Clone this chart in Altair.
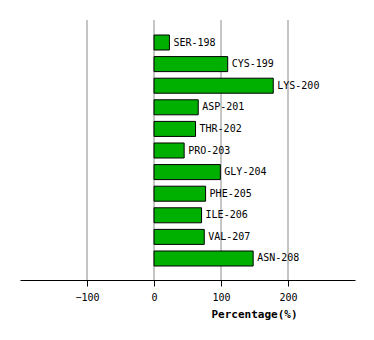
import altair as alt
import pandas as pd

residues = ["SER-198", "CYS-199", "LYS-200", "ASP-201", "THR-202", "PRO-203",
            "GLY-204", "PHE-205", "ILE-206", "VAL-207", "ASN-208"]
percent = [23, 110, 178, 66, 62, 45, 99, 77, 71, 75, 148]
grid_values = [-100, 0, 100, 200]

df = pd.DataFrame({"res": residues, "pct": percent})
gdf = pd.DataFrame({"g": grid_values})

FONT = "DejaVu Sans Mono"
xscale = alt.Scale(domain=[-200, 300], nice=False, zero=False)
yscale = alt.Scale(domain=residues, range=[35, 266], paddingInner=0.305, paddingOuter=0)

grid = alt.Chart(gdf).mark_rule(color="#8c8c8c", strokeWidth=1).encode(
    x=alt.X("g:Q", scale=xscale,
            axis=alt.Axis(values=grid_values, title="Percentage(%)", grid=False,
                          domainColor="black", tickColor="black", tickSize=6,
                          labelFont=FONT, labelFontSize=10, labelColor="black",
                          labelPadding=6,
                          titleFont=FONT, titleFontSize=11, titleFontWeight="bold",
                          titleColor="black", titleX=234, titleAlign="center",
                          titlePadding=6)),
    y=alt.value(20), y2=alt.value(280))

bars = alt.Chart(df).mark_bar(color="#00b000", stroke="black", strokeWidth=1).encode(
    x=alt.X("pct:Q", scale=xscale),
    x2=alt.datum(0),
    y=alt.Y("res:N", scale=yscale, axis=None, sort=residues))

labels = alt.Chart(df).mark_text(align="left", baseline="middle", dx=4, font=FONT,
                                  fontSize=10, color="black").encode(
    x=alt.X("pct:Q", scale=xscale),
    y=alt.Y("res:N", scale=yscale, axis=None, sort=residues),
    text="res:N")

chart = alt.layer(grid, bars, labels).properties(
    width=335, height=280,
    autosize=alt.AutoSizeParams(type="none"),
    padding={"left": 20, "top": 0, "right": 19, "bottom": 60},
    background="white"
).configure_view(stroke=None)

chart.save("out.html", embed_options={"renderer": "svg", "actions": False})
